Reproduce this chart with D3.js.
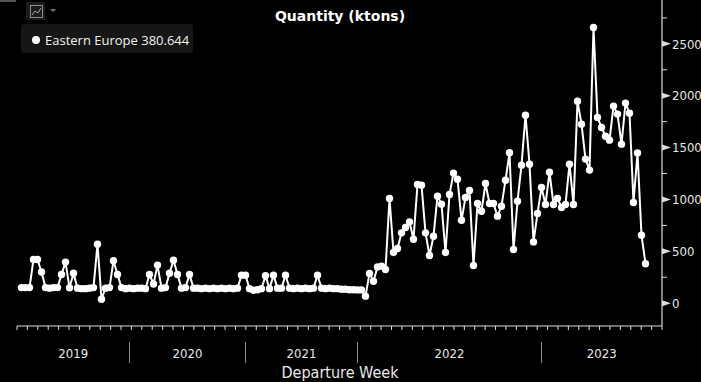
<!DOCTYPE html>
<html><head><meta charset="utf-8">
<script src="https://cdn.jsdelivr.net/npm/d3@7"></script>
<style>html,body{margin:0;padding:0;background:#000;overflow:hidden}</style>
</head><body><svg id="c" width="701" height="382"></svg>
<script>
// ---- data ----
const years = ["2019", "2020", "2021", "2022", "2023"];
const weeksPerYear = [27, 29, 28, 46, 27];
const quantity = [
  150,150,150,421,421,300,150,145,150,150,277,396,148,289,145,140,140,145,150,569,
  38,145,150,410,277,150,140,145,140,145,145,140,277,185,367,145,150,289,414,277,
  145,150,277,145,145,140,145,140,145,140,145,140,145,140,145,270,270,140,125,130,
  140,265,140,270,145,145,270,145,140,145,140,145,140,145,270,145,140,145,140,140,
  135,135,130,130,128,128,68,287,212,350,357,325,1010,489,527,678,730,784,617,1145,
  1138,678,460,646,1032,955,489,1048,1254,1196,800,1019,1087,364,961,887,1154,961,961,839,
  935,1186,1450,518,983,1331,1813,1340,591,865,1116,952,1263,952,1010,923,952,1340,952,1948,
  1726,1389,1283,2659,1791,1694,1610,1572,1900,1823,1533,1929,1832,971,1449,656,380.644
];
const yTicks = [0, 500, 1000, 1500, 2000, 2500];
const yMinorTicks = [250, 750, 1250, 1750, 2250, 2750];
const seriesName = "Eastern Europe";
const lastValue = "380.644";
const title = "Quantity (ktons)";
const xTitle = "Departure Week";

// categories (weeks), built from years + counts
const weeks = [];
years.forEach((yr, i) => { for (let w = 1; w <= weeksPerYear[i]; w++) weeks.push(yr + "-" + w); });

// ---- layout ----
const svg = d3.select("#c");
const axL = 17, axR = 662, axTop = 0, axBot = 326;
const x = d3.scalePoint().domain(weeks).range([21.5, 645.5]);
const y = d3.scaleLinear().domain([-220, 2923]).range([axBot, axTop]);
const txt = "#e8e8e8";

svg.append("rect").attr("width", 701).attr("height", 382).attr("fill", "#000");

// title
svg.append("text").attr("x", 340).attr("y", 21).attr("text-anchor", "middle")
  .attr("fill", "#fff").attr("font-family", "DejaVu Sans").attr("font-weight", "bold")
  .attr("font-size", 14).text(title);

// right axis
svg.append("line").attr("x1", axR).attr("x2", axR).attr("y1", axTop).attr("y2", axBot)
  .attr("stroke", "#ddd").attr("stroke-width", 1.2);
yTicks.forEach(v => {
  const yy = y(v);
  svg.append("path").attr("d", `M${axR},${yy - 3}L${axR + 9},${yy}L${axR},${yy + 3}Z`).attr("fill", "#ddd");
  svg.append("text").attr("x", 672).attr("y", yy).attr("dy", "0.36em")
    .attr("fill", txt).attr("font-family", "DejaVu Sans Condensed, DejaVu Sans").attr("font-size", 13).text(v);
});
yMinorTicks.forEach(v => {
  const yy = y(v);
  svg.append("line").attr("x1", axR).attr("x2", axR + 5).attr("y1", yy).attr("y2", yy)
    .attr("stroke", "#ddd").attr("stroke-width", 1);
});

// bottom axis
svg.append("line").attr("x1", axL).attr("x2", axR).attr("y1", axBot).attr("y2", axBot)
  .attr("stroke", "#ddd").attr("stroke-width", 1.2);
d3.range(0, 63).forEach(i => {
  const xx = axL + i * (axR - axL) / 62;
  svg.append("line").attr("x1", xx).attr("x2", xx).attr("y1", axBot).attr("y2", axBot + 4)
    .attr("stroke", "#ddd").attr("stroke-width", 1);
});
// year separators and labels
let start = 0;
const bounds = [axL];
years.forEach((yr, i) => {
  if (i > 0) bounds.push(x(weeks[start]));
  start += weeksPerYear[i];
});
bounds.push(axR);
bounds.slice(1, -1).forEach(b => {
  svg.append("line").attr("x1", b).attr("x2", b).attr("y1", 342).attr("y2", 363)
    .attr("stroke", "#8a8a8a").attr("stroke-width", 1);
});
years.forEach((yr, i) => {
  svg.append("text").attr("x", (bounds[i] + bounds[i + 1]) / 2).attr("y", 353).attr("dy", "0.36em")
    .attr("text-anchor", "middle").attr("fill", txt)
    .attr("font-family", "DejaVu Sans Condensed, DejaVu Sans").attr("font-size", 13).text(yr);
});
svg.append("text").attr("x", 340).attr("y", 372).attr("dy", "0.36em").attr("text-anchor", "middle")
  .attr("fill", txt).attr("font-family", "DejaVu Sans Condensed, DejaVu Sans").attr("font-size", 16).text(xTitle);

// series
const line = d3.line().x((d, i) => x(weeks[i])).y(d => y(d));
svg.append("path").datum(quantity).attr("d", line).attr("fill", "none")
  .attr("stroke", "#fff").attr("stroke-width", 2).attr("stroke-linejoin", "round");
svg.append("g").selectAll("circle").data(quantity).join("circle")
  .attr("cx", (d, i) => x(weeks[i])).attr("cy", d => y(d)).attr("r", 3.7).attr("fill", "#fff");

// top-left widgets
svg.append("rect").attr("x", 0).attr("y", 0).attr("width", 16).attr("height", 2).attr("fill", "#555");
svg.append("rect").attr("x", 26).attr("y", 2).attr("width", 19).attr("height", 18).attr("fill", "#1c1c1c");
svg.append("rect").attr("x", 30.5).attr("y", 5.5).attr("width", 12).attr("height", 12).attr("fill", "none")
  .attr("stroke", "#8a8a8a").attr("stroke-width", 1);
svg.append("path").attr("d", "M32,15L35,11L38,13L41,8").attr("fill", "none").attr("stroke", "#aaa").attr("stroke-width", 1);
svg.append("path").attr("d", "M50,9L56,9L53,12Z").attr("fill", "#777");

// legend
svg.append("rect").attr("x", 21).attr("y", 24).attr("width", 172).attr("height", 29).attr("rx", 3)
  .attr("fill", "#161616");
svg.append("circle").attr("cx", 36).attr("cy", 40).attr("r", 4).attr("fill", "#fff");
svg.append("text").attr("x", 45).attr("y", 40).attr("dy", "0.36em").attr("fill", "#f2f2f2")
  .attr("font-family", "Open Sans").attr("font-size", 13).text(seriesName + " " + lastValue);
</script></body></html>
